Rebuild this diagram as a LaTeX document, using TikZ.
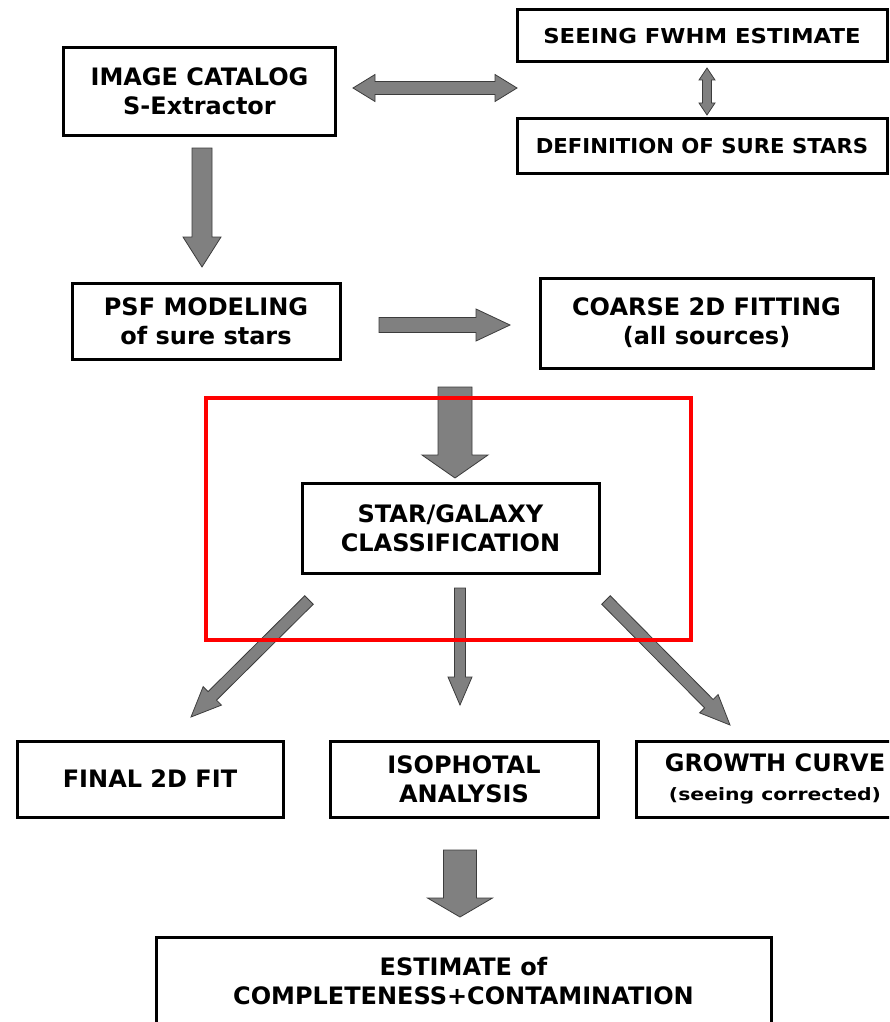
\documentclass[tikz,border=0pt]{standalone}
\usepackage{fontspec}
\setmainfont{DejaVu Sans}
\usetikzlibrary{calc}
\definecolor{arrowgray}{RGB}{128,128,128}
\definecolor{arrowedge}{RGB}{60,60,60}
\newcommand\blockarrow[5]{% A, B, shaft half, head half, head length
  \coordinate (ba-h) at ($(#2)!#5pt!(#1)$);
  \filldraw[arrowshape] ($(#1)!#3pt!90:(#2)$) -- ($(ba-h)!#3pt!90:(#2)$) -- ($(ba-h)!#4pt!90:(#2)$) -- (#2)
    -- ($(ba-h)!#4pt!-90:(#2)$) -- ($(ba-h)!#3pt!-90:(#2)$) -- ($(#1)!#3pt!-90:(#2)$) -- cycle;}
\newcommand\doublearrow[5]{%
  \coordinate (ba-h) at ($(#2)!#5pt!(#1)$);
  \coordinate (ba-g) at ($(#1)!#5pt!(#2)$);
  \filldraw[arrowshape] (#1) -- ($(ba-g)!#4pt!90:(#2)$) -- ($(ba-g)!#3pt!90:(#2)$) -- ($(ba-h)!#3pt!90:(#2)$) -- ($(ba-h)!#4pt!90:(#2)$) -- (#2)
    -- ($(ba-h)!#4pt!-90:(#2)$) -- ($(ba-h)!#3pt!-90:(#2)$) -- ($(ba-g)!#3pt!-90:(#2)$) -- ($(ba-g)!#4pt!-90:(#2)$) -- cycle;}
\begin{document}
\begin{tikzpicture}[x=1pt,y=-1pt,
  box/.style={draw=black, line width=3pt, fill=white, inner sep=0pt, align=center,
    font=\bfseries\fontsize{24}{29}\selectfont},
  arrowshape/.style={fill=arrowgray, draw=arrowedge, line width=0.8pt, line join=miter},
  redframe/.style={draw={rgb,255:red,255;green,0;blue,0}, line width=3.5pt}]
\useasboundingbox (0,0) rectangle (889,1022);
\fill[white] (0,0) rectangle (889,1022);
\clip (0,0) rectangle (889,1022);

% boxes
\node[box, minimum width=272pt, minimum height=88pt] (cat) at (199.5,91.5) {IMAGE CATALOG\\S-Extractor};
\node[box, minimum width=370pt, minimum height=52pt] (fwhm) at (702,36)
  {\fontsize{20.5}{24}\selectfont\scalebox{1.11}[1]{SEEING FWHM ESTIMATE}};
\node[box, minimum width=370pt, minimum height=54pt] (sure) at (702,146)
  {\fontsize{20.5}{24}\selectfont\scalebox{1.035}[1]{DEFINITION OF SURE STARS}};
\node[box, minimum width=268pt, minimum height=76pt] (psf) at (206,321) {PSF MODELING\\of sure stars};
\node[box, minimum width=333pt, minimum height=90pt] (coarse) at (706.5,323) {COARSE 2D FITTING\\(all sources)};
\node[box, minimum width=297pt, minimum height=90pt] (sg) at (450.5,528) {STAR/GALAXY\\CLASSIFICATION};
\node[box, minimum width=266pt, minimum height=76pt] (final) at (150,779) {FINAL 2D FIT};
\node[box, minimum width=268pt, minimum height=76pt] (iso) at (464,779) {ISOPHOTAL\\ANALYSIS};
\node[box, minimum width=278pt, minimum height=76pt] (growth) at (775,779)
  {GROWTH CURVE\\{\fontsize{17}{20}\selectfont\scalebox{1.2}[1]{(seeing corrected)}}};
\node[box, minimum width=615pt, minimum height=88pt] (est) at (463.5,981) {ESTIMATE of\\COMPLETENESS+CONTAMINATION};

% arrow end points
\coordinate (a1s) at (353,88);  \coordinate (a1e) at (517,88);
\coordinate (a2s) at (707,68);  \coordinate (a2e) at (707,115);
\coordinate (a3s) at (202,148); \coordinate (a3e) at (202,267);
\coordinate (a4s) at (379,325); \coordinate (a4e) at (510,325);
\coordinate (a5s) at (455,387); \coordinate (a5e) at (455,478);
\coordinate (a6s) at (309,600); \coordinate (a6e) at (191,717);
\coordinate (a7s) at (460,588); \coordinate (a7e) at (460,705);
\coordinate (a8s) at (606,600); \coordinate (a8e) at (730,725);
\coordinate (a9s) at (460,850); \coordinate (a9e) at (460,917);

\doublearrow{a1s}{a1e}{6.5}{13.5}{22}
\doublearrow{a2s}{a2e}{4.5}{8}{12}
\blockarrow{a3s}{a3e}{10}{19}{30}
\blockarrow{a4s}{a4e}{7.5}{16}{34}
\blockarrow{a5s}{a5e}{17}{33}{23}
\blockarrow{a6s}{a6e}{6}{13}{30}
\blockarrow{a7s}{a7e}{5.5}{12}{28}
\blockarrow{a8s}{a8e}{6}{13}{30}
\blockarrow{a9s}{a9e}{16.5}{32.5}{19}

% red highlight frame
\draw[redframe] (206,398) rectangle (691,640);
\end{tikzpicture}
\end{document}
